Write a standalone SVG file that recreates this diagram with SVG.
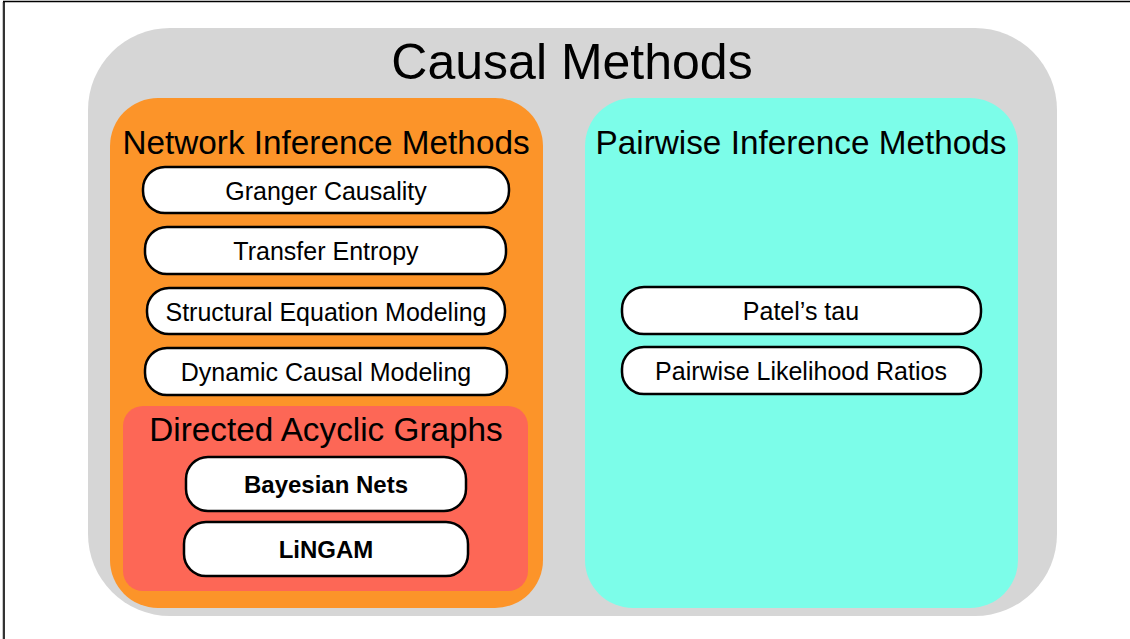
<svg xmlns="http://www.w3.org/2000/svg" width="1130" height="639" viewBox="0 0 1130 639">
<style>
  text { font-family: "Liberation Sans", Arial, Helvetica, sans-serif; fill: #000; text-anchor: middle; }
  .title { font-size: 50px; }
  .group-title { font-size: 33.3px; }
  .pill { fill: #fff; stroke: #000; stroke-width: 2.5; }
  .pill-text { font-size: 25px; }
  .bold { font-weight: bold; font-size: 24px; }
</style>
<rect x="0" y="0" width="1130" height="639" fill="#fff"/>
<line x1="2.5" y1="2" x2="2.5" y2="639" stroke="#c8c8c8" stroke-width="1"/>
<line x1="3" y1="1.5" x2="1130" y2="1.5" stroke="#000" stroke-width="1.6"/>
<line x1="4" y1="1" x2="4" y2="639" stroke="#000" stroke-width="1.6"/>

<g id="causal-methods">
  <rect x="88" y="28" width="969" height="588" rx="82" ry="82" fill="#d6d6d6"/>
  <text class="title" x="572" y="79">Causal Methods</text>
</g>

<g id="network-inference">
  <rect x="110" y="98" width="433" height="510" rx="48" ry="48" fill="#fc9429"/>
  <text class="group-title" x="326" y="154">Network Inference Methods</text>
</g>

<g id="pairwise-inference">
  <rect x="585" y="98" width="433" height="510" rx="48" ry="48" fill="#7cfde9"/>
  <text class="group-title" x="801" y="154">Pairwise Inference Methods</text>
</g>

<g id="granger">
  <rect class="pill" x="143" y="167" width="366" height="46" rx="22"/>
  <text class="pill-text" x="326" y="200">Granger Causality</text>
</g>
<g id="transfer-entropy">
  <rect class="pill" x="145" y="227" width="361" height="47" rx="22"/>
  <text class="pill-text" x="326" y="260">Transfer Entropy</text>
</g>
<g id="sem">
  <rect class="pill" x="147" y="288" width="358" height="46" rx="22"/>
  <text class="pill-text" x="326" y="321">Structural Equation Modeling</text>
</g>
<g id="dcm">
  <rect class="pill" x="145" y="348" width="362" height="47" rx="22"/>
  <text class="pill-text" x="326" y="381">Dynamic Causal Modeling</text>
</g>

<g id="dag">
  <rect x="123" y="406" width="405" height="185" rx="20" ry="20" fill="#fd6756"/>
  <text class="group-title" x="326" y="441">Directed Acyclic Graphs</text>
</g>
<g id="bayesian-nets">
  <rect class="pill" x="186" y="457" width="280" height="54" rx="22"/>
  <text class="pill-text bold" x="326" y="493">Bayesian Nets</text>
</g>
<g id="lingam">
  <rect class="pill" x="184" y="522" width="284" height="54" rx="22"/>
  <text class="pill-text bold" x="326" y="558">LiNGAM</text>
</g>

<g id="patels-tau">
  <rect class="pill" x="622" y="287" width="359" height="47" rx="22"/>
  <text class="pill-text" x="801" y="320">Patel’s tau</text>
</g>
<g id="pairwise-likelihood">
  <rect class="pill" x="622" y="347" width="359" height="47" rx="22"/>
  <text class="pill-text" x="801" y="380">Pairwise Likelihood Ratios</text>
</g>

<g id="connectors"></g>
</svg>
